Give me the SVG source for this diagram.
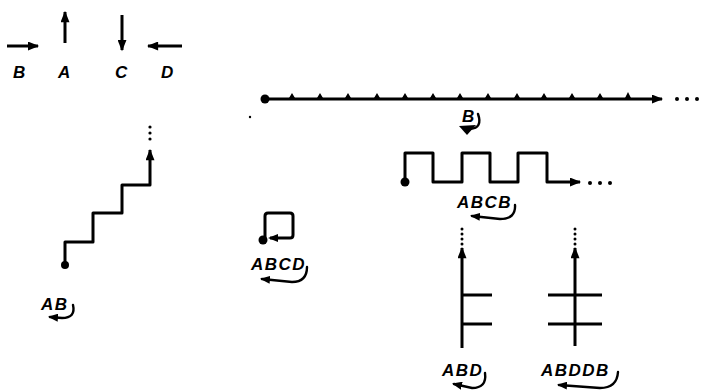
<svg xmlns="http://www.w3.org/2000/svg" width="701" height="391" viewBox="0 0 701 391">
<defs>
<marker id="ah" viewBox="0 0 10 8" refX="9" refY="4" markerWidth="12" markerHeight="9" markerUnits="userSpaceOnUse" orient="auto">
<path d="M0,0 L10,4 L0,8 Z" fill="#000"/>
</marker>
<marker id="ahs" viewBox="0 0 10 8" refX="8" refY="4" markerWidth="10" markerHeight="8" markerUnits="userSpaceOnUse" orient="auto">
<path d="M0,0 L10,4 L0,8 Z" fill="#000"/>
</marker>
</defs>
<style>
.ln{fill:none;stroke:#000;stroke-width:3;stroke-linejoin:round;stroke-linecap:butt}
.cv{fill:none;stroke:#000;stroke-width:2.4;stroke-linecap:round}
.lb{font-family:"Liberation Sans",Arial,sans-serif;font-weight:bold;font-style:italic;font-size:17px;letter-spacing:1.5px;fill:#000}
.dt{fill:#000}
</style>
<rect width="701" height="391" fill="#fff"/>

<g id="legend">
<line class="ln" x1="7" y1="46" x2="38" y2="46" marker-end="url(#ah)"/>
<line class="ln" x1="65" y1="43" x2="65" y2="12" marker-end="url(#ah)"/>
<line class="ln" x1="122" y1="15" x2="122" y2="50" marker-end="url(#ah)"/>
<line class="ln" x1="182" y1="46" x2="148" y2="46" marker-end="url(#ah)"/>
<text class="lb" x="20" y="78" text-anchor="middle">B</text>
<text class="lb" x="65" y="78" text-anchor="middle">A</text>
<text class="lb" x="122" y="78" text-anchor="middle">C</text>
<text class="lb" x="168" y="78" text-anchor="middle">D</text>
</g>

<g id="connectors">
<path class="ln" d="M65,265 V242 H93 V213 H122 V185 H150 V150" marker-end="url(#ah)"/>
<line class="ln" x1="265" y1="99" x2="662" y2="99" marker-end="url(#ah)"/>
<path class="ln" d="M405,182 V153 H433 V182 H462 V153 H490 V182 H518 V153 H547 V182 H580" marker-end="url(#ah)"/>
<path class="ln" d="M265,240 V216 Q265,213 268,213 H290 Q293,213 293,216 V235 Q293,238 290,238 H270" marker-end="url(#ahs)"/>
<line class="ln" x1="462" y1="348" x2="462" y2="248" marker-end="url(#ah)"/>
<line class="ln" x1="575" y1="346" x2="575" y2="248" marker-end="url(#ah)"/>
</g>

<g id="staircase-AB">
<circle class="dt" cx="65" cy="265" r="4"/>
<circle class="dt" cx="150" cy="127" r="1.6"/>
<circle class="dt" cx="150" cy="133" r="1.6"/>
<circle class="dt" cx="150" cy="139" r="1.6"/>
<text class="lb" x="41" y="310">AB</text>
<path class="cv" d="M73,305 Q76,318 62,318 L50,317" marker-end="url(#ahs)"/>
</g>

<g id="line-B">
<circle class="dt" cx="265" cy="99" r="4.5"/>
<path fill="#000" d="M289,98 L292,93 L295,98 Z M317,98 L320,93 L323,98 Z M345,98 L348,93 L351,98 Z M374,98 L377,93 L380,98 Z M402,98 L405,93 L408,98 Z M430,98 L433,93 L436,98 Z M457,98 L460,93 L463,98 Z M485,98 L488,93 L491,98 Z M514,98 L517,93 L520,98 Z M541,98 L544,93 L547,98 Z M569,98 L572,93 L575,98 Z M597,98 L600,93 L603,98 Z M625,98 L628,92 L631,98 Z"/>
<circle class="dt" cx="677" cy="99" r="2"/>
<circle class="dt" cx="687" cy="99" r="2"/>
<circle class="dt" cx="697" cy="99" r="2"/>
<circle class="dt" cx="250" cy="117" r="1.2"/>
<text class="lb" x="462" y="122">B</text>
<path class="cv" d="M478,114 Q483,128 470,129"/>
<path fill="#000" d="M459,126 L476,125 L467,135 Z"/>
</g>

<g id="wave-ABCB">
<circle class="dt" cx="405" cy="182" r="4.5"/>
<circle class="dt" cx="590" cy="183" r="2"/>
<circle class="dt" cx="600" cy="183" r="2"/>
<circle class="dt" cx="610" cy="183" r="2"/>
<text class="lb" x="457" y="208">ABCB</text>
<path class="cv" d="M515,205 Q516,219 500,219 L472,216" marker-end="url(#ahs)"/>
</g>

<g id="loop-ABCD">
<circle class="dt" cx="263" cy="240" r="4.5"/>
<text class="lb" x="251" y="270">ABCD</text>
<path class="cv" d="M307,267 Q307,282 292,282 L262,279" marker-end="url(#ahs)"/>
</g>

<g id="branch-ABD">
<line class="ln" x1="462" y1="295" x2="492" y2="295"/>
<line class="ln" x1="462" y1="324" x2="492" y2="324"/>
<circle class="dt" cx="462" cy="229" r="1.5"/>
<circle class="dt" cx="462" cy="234" r="1.5"/>
<circle class="dt" cx="462" cy="239" r="1.5"/>
<circle class="dt" cx="462" cy="244" r="1.5"/>
<text class="lb" x="442" y="376">ABD</text>
<path class="cv" d="M485,373 Q487,388 472,388 L454,384" marker-end="url(#ahs)"/>
</g>

<g id="cross-ABDDB">
<line class="ln" x1="548" y1="295" x2="602" y2="295"/>
<line class="ln" x1="548" y1="324" x2="602" y2="324"/>
<circle class="dt" cx="575" cy="229" r="1.5"/>
<circle class="dt" cx="575" cy="234" r="1.5"/>
<circle class="dt" cx="575" cy="239" r="1.5"/>
<circle class="dt" cx="575" cy="244" r="1.5"/>
<text class="lb" x="541" y="376">ABDDB</text>
<path class="cv" d="M618,372 Q617,388 600,388 L559,385" marker-end="url(#ahs)"/>
</g>
</svg>
